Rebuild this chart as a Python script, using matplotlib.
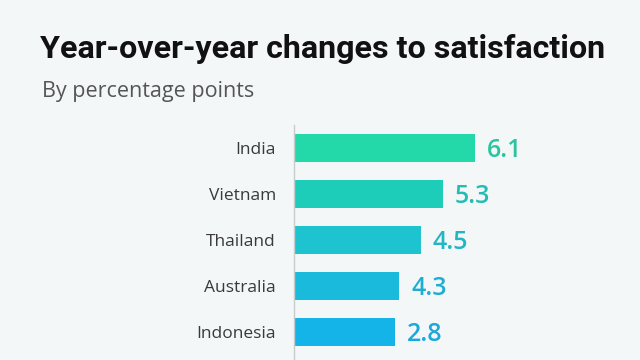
import matplotlib
matplotlib.use("Agg")
import matplotlib.pyplot as plt

categories = ["India", "Vietnam", "Thailand", "Australia", "Indonesia"]
values = [6.1, 5.3, 4.5, 4.3, 2.8]
# bar lengths as drawn in the reference (same units, India = 6.1)
bar_lengths = [6.1, 5.02, 4.28, 3.54, 3.40]
bar_colors = ["#24D9A9", "#1ECDB9", "#1DC3CE", "#19BADB", "#14B4E8"]
label_colors = ["#2CC39F", "#24BDB3", "#22B5C4", "#1EAED2", "#1AA9DA"]

title = "Year-over-year changes to satisfaction"
subtitle = "By percentage points"

W, H = 640, 360
fig = plt.figure(figsize=(6.4, 3.6), dpi=100)
bg = "#F4F7F8"
fig.patch.set_facecolor(bg)

x0 = 294
ax = fig.add_axes([x0 / W, 0, 1 - x0 / W, 1 - 125 / H])
ax.set_facecolor(bg)
px_per_unit = 181 / 6.1
ax.set_xlim(0, (W - x0) / px_per_unit)
pitch = 46.0
ax.set_ylim((360 - 148) / pitch, (125 - 148) / pitch)

ypos = list(range(len(categories)))
ax.barh(ypos, bar_lengths, height=28 / pitch, color=bar_colors, zorder=2)
for y, L, v, c in zip(ypos, bar_lengths, values, label_colors):
    ax.text(L + 12 / px_per_unit, y + 0.06, f"{v}", va="center", ha="left",
            fontsize=18, fontweight="semibold", color=c, family="Open Sans")

ax.set_yticks(ypos)
ax.set_yticklabels(categories, fontsize=12.5, color="#3a3a3a", family="Open Sans")
ax.tick_params(axis="y", length=0, pad=13)
ax.set_xticks([])
for s in ["top", "right", "bottom"]:
    ax.spines[s].set_visible(False)
ax.spines["left"].set_color("#c8cccd")
ax.spines["left"].set_linewidth(1.0)

fig.text(40 / W, 1 - 58 / H, title, fontsize=23.2, fontweight="bold",
         family="Roboto", color="#111111", va="baseline", ha="left")
fig.text(42 / W, 1 - 97 / H, subtitle, fontsize=15.5, family="Open Sans",
         color="#555555", va="baseline", ha="left")

fig.savefig("out.png", dpi=100, facecolor=bg)
